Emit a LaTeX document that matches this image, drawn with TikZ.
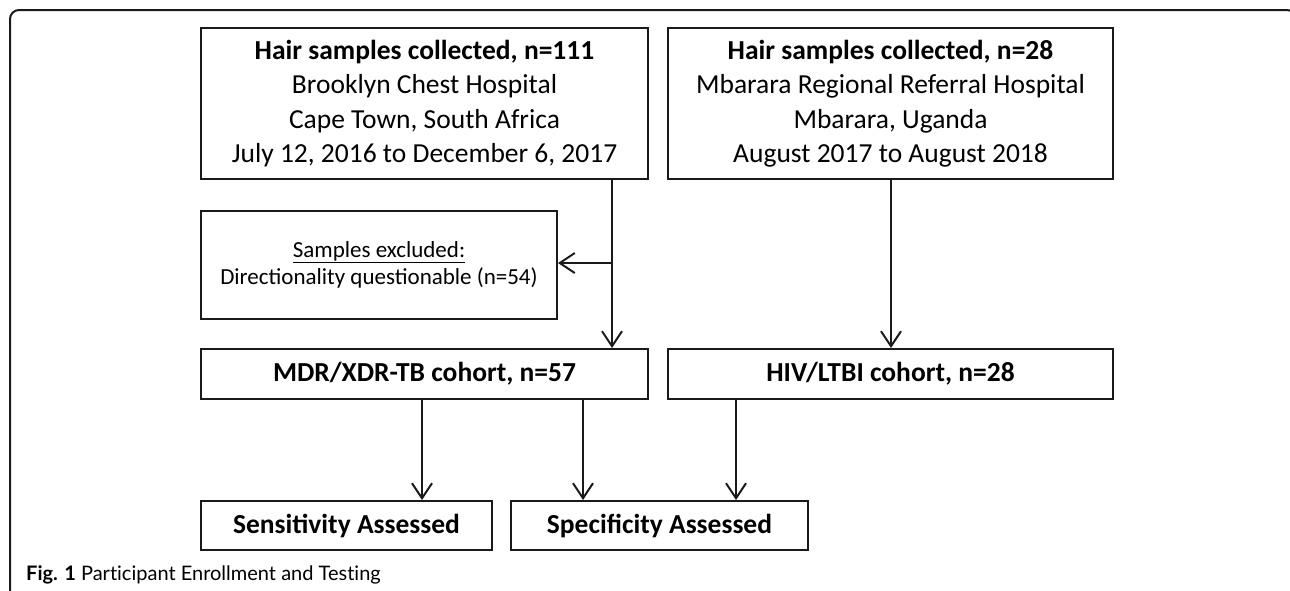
\documentclass[tikz,border=0pt]{standalone}
\usepackage{fontspec}
\setmainfont{Carlito}
\newfontfamily\capfont[Ligatures=NoCommon]{Lato}
\usetikzlibrary{arrows.meta}
\definecolor{ink}{HTML}{1A1A1A}
\begin{document}
\begin{tikzpicture}[x=1pt,y=-1pt,
  box/.style={draw=ink, line width=2pt, rectangle, anchor=north west, align=center, inner sep=0pt, text=black,
    font=\fontsize{27.5}{34.5}\selectfont},
  smallbox/.style={box, font=\fontsize{23}{27.5}\selectfont},
  arr/.style={draw=ink, line width=2pt, -{Straight Barb[length=15pt,width=20pt,line width=2pt]}},
  frame/.style={draw=ink, line width=2pt, rounded corners=9pt},
]
\useasboundingbox (0,0) rectangle (1290,590);
\clip (0,0) rectangle (1290,590);
\fill[white] (0,0) rectangle (1290,590);
\draw[frame] (10,595) -- (10,10) -- (1296,10) -- (1296,595);

\node[box, minimum width=447pt, minimum height=151pt] (b1) at (200,27)
  {\textbf{Hair samples collected, n=111}\\Brooklyn Chest Hospital\\Cape Town, South Africa\\July 12, 2016 to December 6, 2017};
\node[box, minimum width=445pt, minimum height=151pt] (b2) at (667,27)
  {\textbf{Hair samples collected, n=28}\\Mbarara Regional Referral Hospital\\Mbarara, Uganda\\August 2017 to August 2018};
\node[smallbox, minimum width=356pt, minimum height=108pt] (excl) at (200,210)
  {\underline{Samples excluded:}\\Directionality questionable (n=54)};
\node[box, minimum width=447pt, minimum height=50pt] (mdr) at (200,348) {\textbf{MDR/XDR-TB cohort, n=57}};
\node[box, minimum width=445pt, minimum height=50pt] (hiv) at (667,348) {\textbf{HIV/LTBI cohort, n=28}};
\node[box, minimum width=291pt, minimum height=49pt] (sens) at (200,500) {\textbf{Sensitivity Assessed}};
\node[box, minimum width=297pt, minimum height=49pt] (spec) at (510,500) {\textbf{Specificity Assessed}};
\node[anchor=west, inner sep=0pt, font=\capfont\fontsize{20}{24}\selectfont] (cap) at (26,575)
  {\textbf{Fig. 1} Participant Enrollment and Testing};

\coordinate (xa) at (612,0);
\coordinate (xb) at (891,0);
\coordinate (xc) at (422,0);
\coordinate (xd) at (583,0);
\coordinate (xe) at (736,0);
\coordinate (br) at (612,263);

\draw[arr] (b1.south -| xa) -- (mdr.north -| xa);
\draw[arr] (br) -- (excl.east |- br);
\draw[arr] (b2.south -| xb) -- (hiv.north -| xb);
\draw[arr] (mdr.south -| xc) -- (sens.north -| xc);
\draw[arr] (mdr.south -| xd) -- (spec.north -| xd);
\draw[arr] (hiv.south -| xe) -- (spec.north -| xe);
\end{tikzpicture}
\end{document}
